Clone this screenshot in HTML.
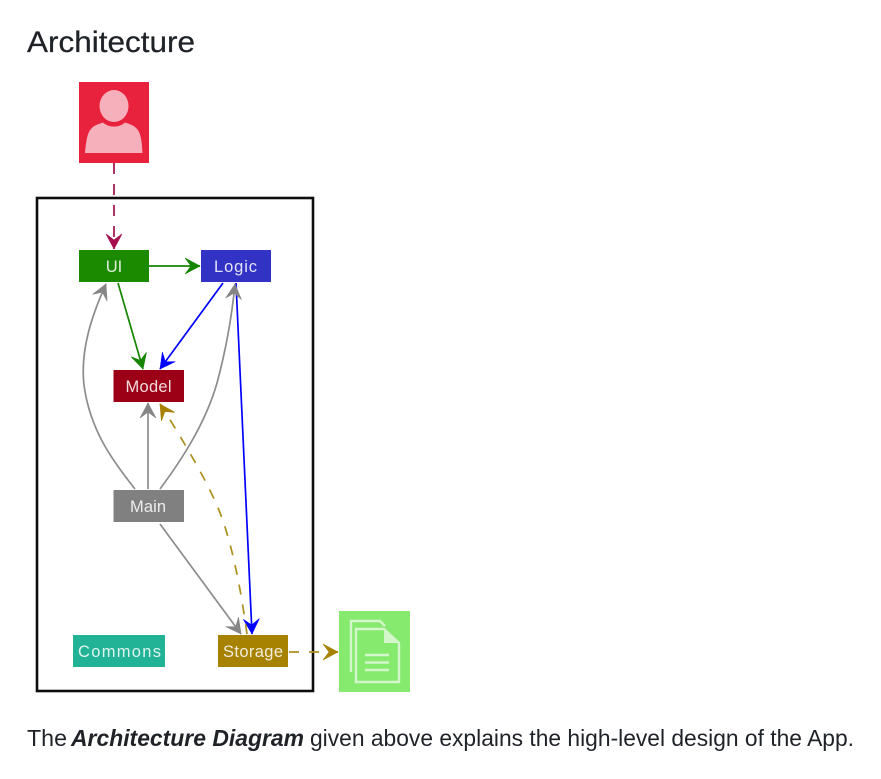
<!DOCTYPE html>
<html><head><meta charset="utf-8"><style>
html,body{margin:0;padding:0;background:#fff;width:881px;height:779px;overflow:hidden}
svg{display:block}
text{font-family:"Liberation Sans",sans-serif}
.b{font-size:16.500px;fill:#fff;text-anchor:middle;fill-opacity:.86}
.p{font-size:23px;fill:#1f2328}
</style></head><body>
<svg width="881" height="779" viewBox="0 0 881 779" xmlns="http://www.w3.org/2000/svg">
<defs>
<marker id="aR" markerUnits="userSpaceOnUse" markerWidth="20" markerHeight="20" refX="15" refY="8" orient="auto" overflow="visible"><path d="M0 0L15 8L0 16L6 8Z" fill="#a50f4e" stroke="#a50f4e" stroke-width=".6"/></marker>
<marker id="aG" markerUnits="userSpaceOnUse" markerWidth="20" markerHeight="20" refX="15" refY="8" orient="auto" overflow="visible"><path d="M0 0L15 8L0 16L6 8Z" fill="#148500" stroke="#148500" stroke-width=".6"/></marker>
<marker id="aB" markerUnits="userSpaceOnUse" markerWidth="20" markerHeight="20" refX="15" refY="8" orient="auto" overflow="visible"><path d="M0 0L15 8L0 16L6 8Z" fill="#0000ff" stroke="#0000ff" stroke-width=".6"/></marker>
<marker id="aK" markerUnits="userSpaceOnUse" markerWidth="20" markerHeight="20" refX="15" refY="8" orient="auto" overflow="visible"><path d="M0 0L15 8L0 16L6 8Z" fill="#858585" stroke="#858585" stroke-width=".6"/></marker>
<marker id="aY" markerUnits="userSpaceOnUse" markerWidth="20" markerHeight="20" refX="15" refY="8" orient="auto" overflow="visible"><path d="M0 0L15 8L0 16L6 8Z" fill="#a68200" stroke="#a68200" stroke-width=".6"/></marker>
<filter id="soft" filterUnits="userSpaceOnUse" x="0" y="0" width="881" height="779"><feGaussianBlur stdDeviation="0.300"/></filter>
</defs>
<rect width="881" height="779" fill="#fff"/>
<text x="27" y="52" font-size="30" fill="#1f2328" stroke="#1f2328" stroke-width=".25" textLength="168" lengthAdjust="spacingAndGlyphs">Architecture</text>

<g filter="url(#soft)">
<!-- frame -->
<rect x="37" y="198" width="276" height="493" fill="#fff" stroke="#111" stroke-width="2.600"/>

<!-- user -->
<rect x="79" y="82" width="70" height="81" fill="#e8213c"/>
<ellipse cx="114" cy="106" rx="14.500" ry="16" fill="#f6b0bb"/>
<path d="M85 153C86 143 87 133 91 129C94 125 99 124 103 122.500C109 128 119 128 125 122.500C129 124 134 125 137 129C141 133 142 143 142.500 153Z" fill="#f6b0bb"/>

<!-- boxes -->
<rect x="79" y="250" width="70" height="32" fill="#1f8a00"/>
<text class="b" x="114" y="272">UI</text>
<rect x="201" y="250" width="70" height="32" fill="#3333c4"/>
<text class="b" x="235.500" y="272" textLength="43" lengthAdjust="spacing">Logic</text>
<rect x="113.500" y="370" width="70.500" height="32" fill="#9b0012"/>
<text class="b" x="148.500" y="392" textLength="46" lengthAdjust="spacing">Model</text>
<rect x="113.500" y="490" width="70.500" height="32" fill="#808080"/>
<text class="b" x="148" y="512" textLength="36" lengthAdjust="spacing">Main</text>
<rect x="73" y="635" width="92" height="32" fill="#20b295"/>
<text class="b" x="119.500" y="657" textLength="83" lengthAdjust="spacing">Commons</text>
<rect x="218" y="635" width="70" height="32" fill="#a68200"/>
<text class="b" x="253" y="657" textLength="60" lengthAdjust="spacing">Storage</text>

<!-- file -->
<rect x="339" y="611" width="71" height="81" fill="#86ea6e"/>
<path d="M351 672V621H380L385 626" fill="none" stroke="#d3f6cb" stroke-width="2.400"/>
<path d="M356 682V629H384L399 643V682Z" fill="#86ea6e" stroke="#d3f6cb" stroke-width="2.400"/>
<path d="M384 629L399 643H384Z" fill="#d3f6cb"/>
<path d="M365 655H389M365 662.500H389M365 670H389" stroke="#d3f6cb" stroke-width="2.600" fill="none"/>

<!-- connectors -->
<g fill="none" stroke-width="1.700">
<path d="M114 163V249" stroke="#a50f4e" stroke-dasharray="11 10" marker-end="url(#aR)"/>
<path d="M149 266H200" stroke="#148500" marker-end="url(#aG)"/>
<path d="M118 283L143 369" stroke="#148500" marker-end="url(#aG)"/>
<path d="M223 283L160 369" stroke="#0000ff" marker-end="url(#aB)"/>
<path d="M236 283L252 634" stroke="#0000ff" marker-end="url(#aB)"/>
<path d="M135 489C112 460 90 430 84 385C80 350 92 315 106 284" stroke="#8c8c8c" marker-end="url(#aK)"/>
<path d="M148 489V403" stroke="#8c8c8c" marker-end="url(#aK)"/>
<path d="M160 489C180 462 205 425 217 383C224 357 231 325 235 284" stroke="#8c8c8c" marker-end="url(#aK)"/>
<path d="M160 524L241 634" stroke="#8c8c8c" marker-end="url(#aK)"/>
<path d="M247 634C241 590 231 535 215 501C202 472 178 432 160 404" stroke="#ad8f1e" stroke-dasharray="10 10" marker-end="url(#aY)"/>
<path d="M289 652H338" stroke="#ad8f1e" stroke-dasharray="10 10" marker-end="url(#aY)"/>
</g>
</g>

<text class="p" x="27" y="746" textLength="40" lengthAdjust="spacingAndGlyphs">The</text>
<text class="p" x="71" y="746" font-weight="bold" font-style="italic" textLength="233" lengthAdjust="spacingAndGlyphs">Architecture Diagram</text>
<text class="p" x="310" y="746" textLength="544" lengthAdjust="spacingAndGlyphs">given above explains the high-level design of the App.</text>
</svg>
</body></html>
